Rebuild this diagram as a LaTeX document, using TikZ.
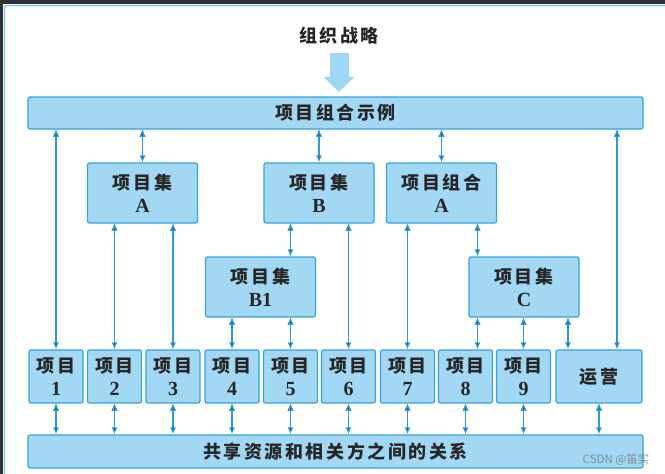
\documentclass[tikz,border=0pt]{standalone}
\usepackage{fontspec}
\setmainfont{Liberation Serif}
\newfontfamily\cjk[LetterSpace=14]{Noto Sans CJK SC}
\newfontfamily\wmfont{Noto Sans CJK SC}
\usetikzlibrary{arrows.meta}

\definecolor{boxfill}{HTML}{A3D8F5}
\definecolor{boxline}{HTML}{35A2DC}
\definecolor{linkblue}{HTML}{2F98D8}
\definecolor{bigblue}{HTML}{9FD6F5}
\definecolor{framedark}{HTML}{2E3236}
\definecolor{framecyan}{HTML}{6FC3EA}
\definecolor{wmgray}{HTML}{7F8C96}

\newcommand{\boxid}[1]{{\fontsize{20}{23}\selectfont #1}}

\begin{document}
\begin{tikzpicture}[
  x=1pt, y=-1pt,
  pbox/.style={draw=boxline,fill=boxfill,line width=1.2pt,rounded corners=2pt,
    align=center,inner sep=0pt,text=black!85,font=\fontsize{18}{23}\selectfont\bfseries},
  bar/.style={pbox,minimum width=615pt,minimum height=32pt},
  setbox/.style={pbox,minimum width=110pt,minimum height=60pt},
  projbox/.style={pbox,minimum width=54pt,minimum height=53pt},
  link/.style={draw=linkblue,line width=1.3pt,{Latex[length=7pt,width=6pt]}-{Latex[length=7pt,width=6pt]}}
]
  % frame
  \useasboundingbox (0,0) rectangle (665,474);
  \fill[framedark] (0,0) rectangle (665,474);
  \fill[white] (3,4) rectangle (665,474);
  \draw[framecyan,line width=1.2pt,rounded corners=2pt] (4.5,474) -- (4.5,5.5) -- (665,5.5);

  % strategy
  \node[font=\fontsize{18}{20}\selectfont\bfseries\cjk,text=black!85] (strat) at (339,36) {组织战略};

  % bars
  \node[bar] (port) at (335.5,113) {\cjk 项目组合示例};
  \node[bar,minimum height=33pt] (rel) at (335.5,451.5) {\cjk 共享资源和相关方之间的关系};

  % programs and sub-portfolio
  \node[setbox] (setA) at (142.5,193) {{\cjk 项目集}\\\boxid{A}};
  \node[setbox] (setB) at (319,193) {{\cjk 项目集}\\\boxid{B}};
  \node[setbox] (portA) at (441.5,193) {{\cjk 项目组合}\\\boxid{A}};
  \node[setbox] (setB1) at (260.5,287) {{\cjk 项目集}\\\boxid{B1}};
  \node[setbox] (setC) at (524,287) {{\cjk 项目集}\\\boxid{C}};

  % projects
  \node[projbox] (p1) at (56,376.5) {{\cjk 项目}\\\boxid{1}};
  \node[projbox] (p2) at (114.5,376.5) {{\cjk 项目}\\\boxid{2}};
  \node[projbox] (p3) at (173,376.5) {{\cjk 项目}\\\boxid{3}};
  \node[projbox] (p4) at (232,376.5) {{\cjk 项目}\\\boxid{4}};
  \node[projbox] (p5) at (290.5,376.5) {{\cjk 项目}\\\boxid{5}};
  \node[projbox] (p6) at (348.5,376.5) {{\cjk 项目}\\\boxid{6}};
  \node[projbox] (p7) at (407.5,376.5) {{\cjk 项目}\\\boxid{7}};
  \node[projbox] (p8) at (465.5,376.5) {{\cjk 项目}\\\boxid{8}};
  \node[projbox] (p9) at (523.5,376.5) {{\cjk 项目}\\\boxid{9}};
  \node[projbox,minimum width=86pt] (ops) at (599,376.5) {\cjk 运营};

  % watermark
  \node[text=wmgray,font=\wmfont\fontsize{11.5}{13}\selectfont] (mark) at (616,460) {CSDN @笛实};

  % offset ends
  \coordinate (c8) at ([xshift=12pt]p8.north);
  \coordinate (oL) at ([xshift=-31pt]ops.north);
  \coordinate (oR) at ([xshift=18pt]ops.north);

  % strategy arrow
  \draw[bigblue,line width=19pt,-{Triangle[length=15pt,width=30pt]},shorten <=5pt,shorten >=4.5pt]
    (strat.south) -- (strat.south |- port.north);

  % top bar edges
  \draw[link] (port.south -| p1) edge (p1.north);
  \draw[link] (port.south -| setA) edge (setA.north);
  \draw[link] (port.south -| setB) edge (setB.north);
  \draw[link] (port.south -| portA) edge (portA.north);
  \draw[link] (port.south -| oR) edge (oR);

  % program edges
  \draw[link] (setA.south -| p2) edge (p2.north);
  \draw[link] (setA.south -| p3) edge (p3.north);
  \draw[link] (setB.south -| p5) edge (setB1.north -| p5);
  \draw[link] (setB.south -| p6) edge (p6.north);
  \draw[link] (setB1.south -| p4) edge (p4.north);
  \draw[link] (setB1.south -| p5) edge (p5.north);
  \draw[link] (portA.south -| p7) edge (p7.north);
  \draw[link] (portA.south -| c8) edge (setC.north -| c8);
  \draw[link] (setC.south -| c8) edge (c8);
  \draw[link] (setC.south -| p9) edge (p9.north);
  \draw[link] (setC.south -| oL) edge (oL);

  % bottom bar edges
  \draw[link] (p1.south) edge (rel.north -| p1);
  \draw[link] (p2.south) edge (rel.north -| p2);
  \draw[link] (p3.south) edge (rel.north -| p3);
  \draw[link] (p4.south) edge (rel.north -| p4);
  \draw[link] (p5.south) edge (rel.north -| p5);
  \draw[link] (p6.south) edge (rel.north -| p6);
  \draw[link] (p7.south) edge (rel.north -| p7);
  \draw[link] (p8.south) edge (rel.north -| p8);
  \draw[link] (p9.south) edge (rel.north -| p9);
  \draw[link] (ops.south) edge (rel.north -| ops);

\end{tikzpicture}
\end{document}
